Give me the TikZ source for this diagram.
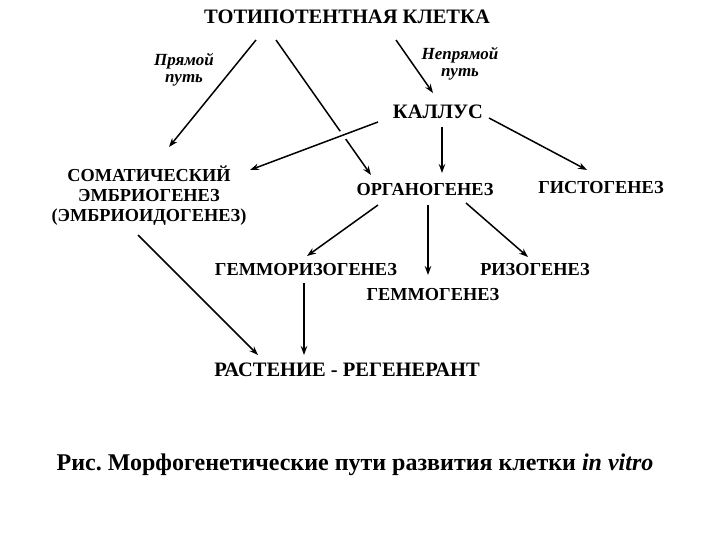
\documentclass[tikz,border=0pt]{standalone}
\usepackage{fontspec}
\setmainfont{Liberation Serif}
\usepackage{tikz}
\usetikzlibrary{arrows.meta, positioning, calc}
\frenchspacing

\begin{document}
\begin{tikzpicture}[x=1pt, y=-1pt,
    every node/.style={font=\bfseries\fontsize{18.3}{20}\selectfont, inner sep=0pt},
    bigterm/.style={font=\bfseries\fontsize{20.5}{22}\selectfont},
    pathlbl/.style={font=\bfseries\itshape\fontsize{17}{17}\selectfont, align=center},
    arr/.style={-{Stealth[length=9pt, width=6.5pt]}, line width=1.5pt}]
            \useasboundingbox (0,0) rectangle (720,540);
            % uzly
            \node[bigterm] (tot) at (347,17) {ТОТИПОТЕНТНАЯ КЛЕТКА};
            \node[pathlbl] (pryam) at (184,70) {Прямой\\путь};
            \node[pathlbl] (nepryam) at (460,64) {Непрямой\\путь};
            \node[bigterm] (kallus) at (438,112) {КАЛЛУС};
            \node[align=center] (somat) at (149,196) {СОМАТИЧЕСКИЙ\\ЭМБРИОГЕНЕЗ\\(ЭМБРИОИДОГЕНЕЗ)};
            \node (organ) at (425,190) {ОРГАНОГЕНЕЗ};
            \node (gisto) at (601,188) {ГИСТОГЕНЕЗ};
            \node (gemmoriz) at (306,270) {ГЕММОРИЗОГЕНЕЗ};
            \node (rizo) at (535,270) {РИЗОГЕНЕЗ};
            \node (gemmo) at (433,295) {ГЕММОГЕНЕЗ};
            \node[bigterm] (rast) at (347,370) {РАСТЕНИЕ - РЕГЕНЕРАНТ};
            \node[font=\bfseries\fontsize{24}{26}\selectfont] (caption) at (355,465)
                {Рис. Морфогенетические пути развития клетки \textit{in vitro}};
            % strelki
            \draw[arr] ($(tot)+(-91,23)$) -- ($(somat)+(20,-49)$);
            \draw[arr] ($(tot)+(-71,23)$) -- ($(organ)+(-54,-15)$);
            \draw[arr] ($(tot)+(49,23)$) -- ($(kallus)+(-5,-19)$);
            \draw[arr, preaction={draw=white, line width=9pt, arrows=-}] ($(kallus)+(-60,10)$) -- ($(somat)+(101,-26)$);
            \draw[arr] ($(kallus)+(4,15)$) -- ($(organ)+(17,-17)$);
            \draw[arr] ($(kallus)+(51,6)$) -- ($(gisto)+(-14,-18)$);
            \draw[arr] ($(organ)+(-47,15)$) -- ($(gemmoriz)+(1,-14)$);
            \draw[arr] ($(organ)+(3,15)$) -- ($(gemmo)+(-5,-20)$);
            \draw[arr] ($(organ)+(41,13)$) -- ($(rizo)+(-7,-13)$);
            \draw[arr] ($(somat)+(-11,39)$) -- ($(rast)+(-89,-15)$);
            \draw[arr] ($(gemmoriz)+(-2,13)$) -- ($(rast)+(-43,-15)$);
        \end{tikzpicture}
\end{document}
